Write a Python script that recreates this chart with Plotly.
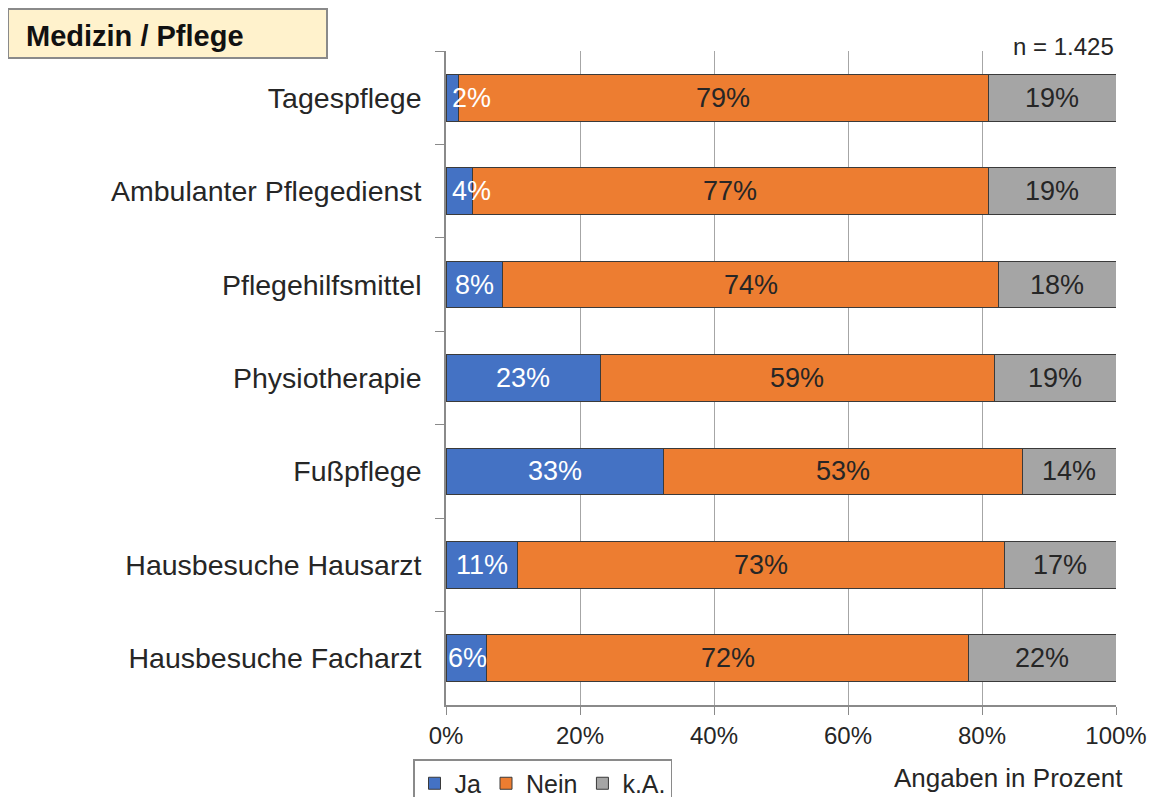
import plotly.graph_objects as go

categories = ["Tagespflege", "Ambulanter Pflegedienst", "Pflegehilfsmittel",
              "Physiotherapie", "Fußpflege", "Hausbesuche Hausarzt", "Hausbesuche Facharzt"]
ja = [1.9, 3.9, 8.4, 23.1, 32.4, 10.6, 6.1]
nein = [79.0, 77.0, 74.1, 58.7, 53.6, 72.7, 71.9]
ka = [19.1, 19.1, 17.5, 18.2, 14.0, 16.7, 22.0]
ja_lbl = ["2%", "4%", "8%", "23%", "33%", "11%", "6%"]
nein_lbl = ["79%", "77%", "74%", "59%", "53%", "73%", "72%"]
ka_lbl = ["19%", "19%", "18%", "19%", "14%", "17%", "22%"]
x_ticks = [0, 20, 40, 60, 80, 100]
x_tick_text = ["0%", "20%", "40%", "60%", "80%", "100%"]

FONT = "Liberation Sans, Arial, sans-serif"
TXT = "#262626"
OFF = 8  # page offset of the figure (body margin)
W, H = 1155 - 2 * OFF, 805 - 2 * OFF
L, R, T, B = 446 - OFF, W - (1116 - OFF), 51 - OFF, H - (705 - OFF)
pw, ph = W - L - R, H - T - B

def px_x(p):
    return (p - OFF - L) / pw

def px_y(p):
    return (H - B - (p - OFF)) / ph

fig = go.Figure()
for name, vals, color in [("Ja", ja, "#4472C4"), ("Nein", nein, "#ED7D31"), ("k.A.", ka, "#A5A5A5")]:
    fig.add_trace(go.Bar(
        y=categories, x=vals, name=name, orientation="h",
        marker=dict(color=color, line=dict(color="#3a3a3a", width=1)),
        hoverinfo="skip",
    ))

LBL = 27
ann = []
for i, c in enumerate(categories):
    if ja[i] < 7:
        ann.append(dict(x=0, y=c, xref="x", yref="y", text=ja_lbl[i], showarrow=False,
                        xanchor="left", xshift=4 if ja[i] < 5 else 0,
                        font=dict(size=LBL, color="white", family=FONT)))
    else:
        ann.append(dict(x=ja[i] / 2, y=c, xref="x", yref="y", text=ja_lbl[i], showarrow=False,
                        font=dict(size=LBL, color="white", family=FONT)))
    ann.append(dict(x=ja[i] + nein[i] / 2, y=c, xref="x", yref="y", text=nein_lbl[i], showarrow=False,
                    font=dict(size=LBL, color=TXT, family=FONT)))
    ann.append(dict(x=ja[i] + nein[i] + ka[i] / 2, y=c, xref="x", yref="y", text=ka_lbl[i], showarrow=False,
                    font=dict(size=LBL, color=TXT, family=FONT)))

ann.append(dict(x=px_x(24), y=px_y(36), xref="paper", yref="paper", text="<b>Medizin / Pflege</b>",
                showarrow=False, xanchor="left", yanchor="middle",
                font=dict(size=29, color="#111111", family=FONT)))
ann.append(dict(x=px_x(1116), y=px_y(47), xref="paper", yref="paper", text="n = 1.425",
                showarrow=False, xanchor="right", yanchor="middle",
                font=dict(size=24, color=TXT, family=FONT)))
ann.append(dict(x=px_x(1125), y=px_y(778), xref="paper", yref="paper", text="Angaben in Prozent",
                showarrow=False, xanchor="right", yanchor="middle",
                font=dict(size=26, color=TXT, family=FONT)))

fig.update_layout(
    width=W, height=H,
    margin=dict(l=L, r=R, t=T, b=B, autoexpand=False),
    barmode="stack", bargap=0.5,
    paper_bgcolor="white", plot_bgcolor="white",
    font=dict(family=FONT, color=TXT),
    showlegend=True,
    legend=dict(orientation="h", x=px_x(413), y=px_y(759), xanchor="left", yanchor="top",
                bordercolor="#8a8a8a", borderwidth=1.5, font=dict(size=25, color=TXT, family=FONT),
                traceorder="normal", itemwidth=30),
    annotations=ann,
    shapes=[dict(type="rect", xref="paper", yref="paper",
                 x0=px_x(8), x1=px_x(327), y0=px_y(58), y1=px_y(9),
                 fillcolor="#FFF2CC", line=dict(color="#8a8a8a", width=2), layer="above")],
    xaxis=dict(range=[0, 100], tickvals=x_ticks, ticktext=x_tick_text, showgrid=True,
               gridcolor="#a6a6a6", gridwidth=1, zeroline=False, showline=True,
               linecolor="#8a8a8a", linewidth=1.5, ticks="outside", ticklen=8, tickcolor="#8a8a8a",
               tickfont=dict(size=24, color=TXT, family=FONT), fixedrange=True, automargin=False),
    yaxis=dict(type="category", categoryorder="array", categoryarray=categories,
               autorange="reversed", showgrid=False, showline=True, linecolor="#8a8a8a",
               linewidth=1.5, ticks="outside", ticklen=9, tickcolor="#8a8a8a", tickson="boundaries",
               ticklabelstandoff=17, automargin=False,
               tickfont=dict(size=28.5, color=TXT, family=FONT), fixedrange=True),
)

fig.write_html("out.html")
